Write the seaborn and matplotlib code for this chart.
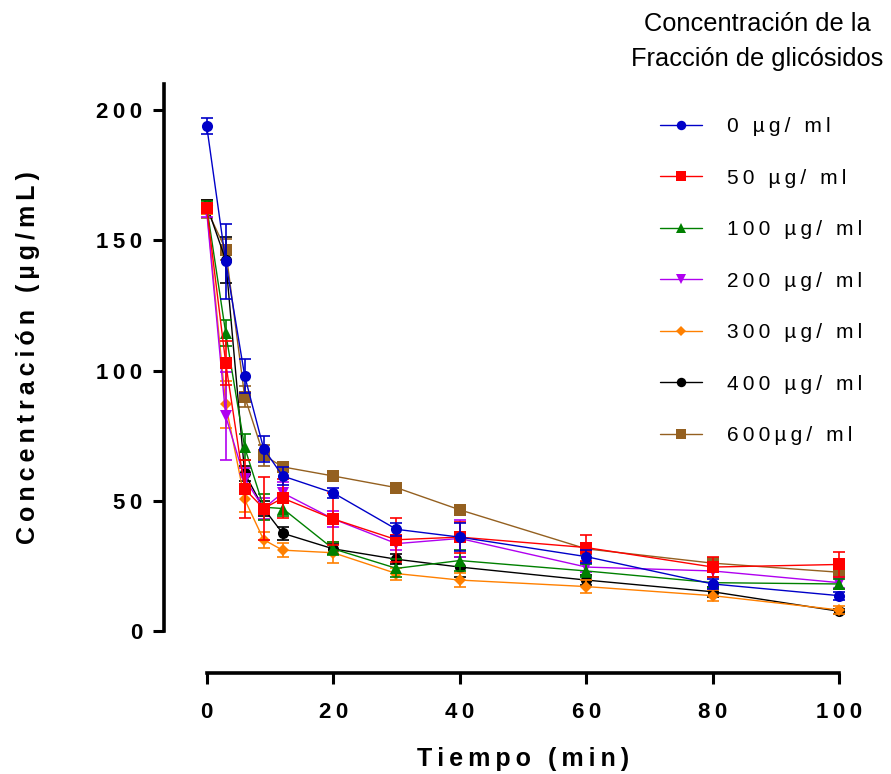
import matplotlib
matplotlib.use("Agg")
import matplotlib.pyplot as plt
from matplotlib.lines import Line2D
import seaborn as sns
import pandas as pd

# tiempo (min)
tiempo = [0, 3, 6, 9, 12, 20, 30, 40, 60, 80, 100]

grupos = ["0 µg/ ml", "50 µg/ ml", "100 µg/ ml", "200 µg/ ml",
          "300 µg/ ml", "400 µg/ ml", "600µg/ ml"]

c0 = [194, 142, 98, 70, 59.5, 53, 39, 36, 28.5, 18, 13.5]
c50 = [162.5, 103, 54.5, 47, 51, 43, 35, 36, 32, 24.5, 25.5]
c100 = [163, 114.5, 70.5, 47.5, 47, 31.5, 24, 27, 23, 18.5, 18]
c200 = [161, 82.5, 58.5, 47, 53, 43, 33.5, 35.5, 24.5, 23, 18.5]
c300 = [162, 87, 50.5, 35, 31, 30, 22, 19.5, 17, 13.5, 8]
c400 = [163.5, 142.5, 60.5, 47, 37.5, 31.5, 27.5, 24.5, 19.5, 15, 7.5]
c600 = [162, 146.5, 90, 67.5, 63, 59.5, 55, 46.5, 31.5, 26, 22.5]

e0 = [3, 14.5, 6.5, 5, 3.5, 2, 2.5, 5.5, 2.5, 2, 1.5]
e50 = [2, 8.5, 11, 12, 7.5, 10, 8.5, 6, 5, 4, 4.7]
e100 = [2, 5, 5, 5, 3, 2.5, 3.5, 4, 2.5, 2, 2]
e200 = [2, 17, 4, 4, 4, 3, 2.5, 7, 2, 2.5, 2]
e300 = [2, 9, 5, 3, 2.7, 4, 2.3, 2.7, 2.5, 2, 1.5]
e400 = [2, 8.7, 3, 3, 2.5, 2, 2, 4, 2, 2, 1]
e600 = [3.5, 4, 4, 4, 2, 1.5, 1.5, 1.5, 2, 2, 2]

medias = [c0, c50, c100, c200, c300, c400, c600]
errores = [e0, e50, e100, e200, e300, e400, e600]
colores = ["#0000C8", "#FF0000", "#008000", "#B000F0", "#FF8000", "#000000", "#946020"]
marcadores = ["o", "s", "^", "v", "D", "o", "s"]
tam = [8, 8.5, 8, 8, 6, 8, 9]

xticks = [0, 20, 40, 60, 80, 100]
yticks = [0, 50, 100, 150, 200]

sns.set_style("ticks")
plt.rcParams["font.family"] = ["Liberation Sans", "DejaVu Sans"]
plt.rcParams["font.weight"] = "bold"
for k in ["axes.edgecolor", "xtick.color", "ytick.color", "text.color", "axes.labelcolor"]:
    plt.rcParams[k] = "black"


def esp(s):
    return "\u2009".join(s)


fig = plt.figure(figsize=(8.91, 7.74), dpi=100)
ax = fig.add_axes([0.232, 0.185, 0.710, 0.706])

# dibujar en orden inverso: el primer grupo queda encima
for i in reversed(range(len(grupos))):
    df = pd.DataFrame({"t": tiempo, "c": medias[i], "e": errores[i]})
    ax.errorbar(df["t"], df["c"], yerr=df["e"], fmt="none", ecolor=colores[i],
                elinewidth=1.2, capsize=4.5, capthick=1.2, zorder=2 + (7 - i) * 2,
                clip_on=False)
    sns.lineplot(data=df, x="t", y="c", ax=ax, color=colores[i], marker=marcadores[i],
                 markersize=tam[i], markeredgewidth=0, linewidth=1.0,
                 zorder=3 + (7 - i) * 2, clip_on=False)

ax.set_xlim(0, 100)
ax.set_ylim(0, 210)
ax.tick_params(axis="both", length=8, width=2.2, labelsize=16)
ax.tick_params(axis="x", pad=13)
ax.tick_params(axis="y", pad=8)
ax.set_xticks(xticks)
ax.set_yticks(yticks)
ax.set_xticklabels([esp(str(v)) for v in xticks])
ax.set_yticklabels([esp(str(v)) for v in yticks])

sns.despine(ax=ax)
ax.spines["left"].set_position(("outward", 30.5))
ax.spines["bottom"].set_position(("outward", 30.2))
ax.spines["left"].set_linewidth(2.6)
ax.spines["bottom"].set_linewidth(2.6)

ax.set_xlabel(esp("Tiempo (min)"), fontsize=18, fontweight="bold", labelpad=17)
ax.set_ylabel(esp("Concentración (µg/mL)"), fontsize=18, fontweight="bold", labelpad=40)

handles = [Line2D([], [], color=colores[i], marker=marcadores[i],
                  markersize=tam[i] * 0.85, markeredgewidth=0, linewidth=1.0)
           for i in range(len(grupos))]
ax.legend(handles, [esp(g) for g in grupos], loc="upper left",
          bbox_to_anchor=(0.7295, 0.862), bbox_transform=fig.transFigure,
          frameon=False, prop={"size": 15, "weight": "normal"},
          handlelength=2.0, handletextpad=1.2, labelspacing=1.56, borderpad=0)

fig.text(0.85, 0.985, "Concentración de la\nFracción de glicósidos", ha="center",
         va="top", fontsize=18.3, fontweight="normal", linespacing=1.62)

fig.savefig("out.png", dpi=100)
